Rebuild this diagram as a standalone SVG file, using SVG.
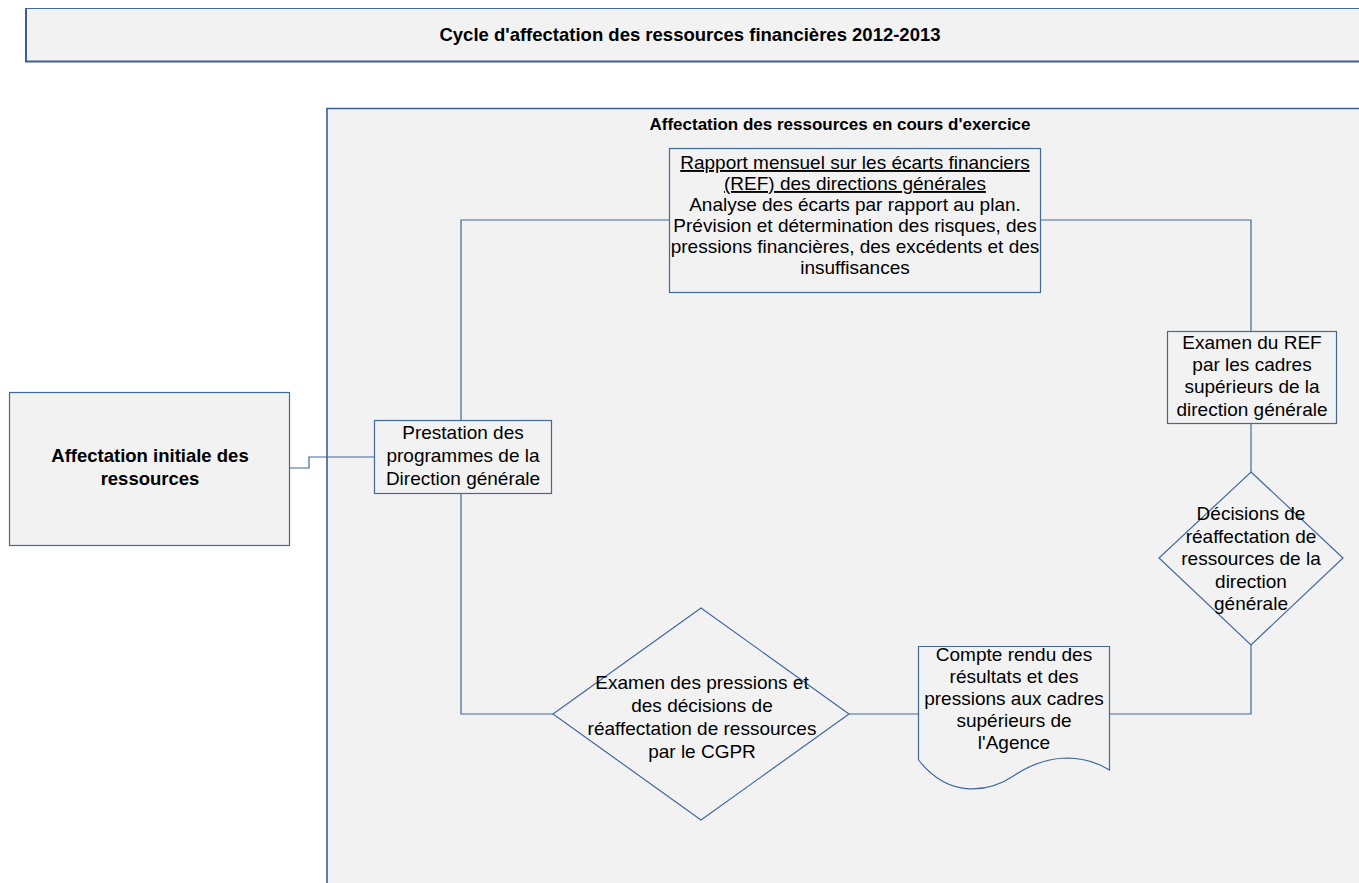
<svg xmlns="http://www.w3.org/2000/svg" width="1359" height="883" viewBox="0 0 1359 883">
<style>
.bg{fill:#f2f2f2}
.box{fill:#f2f2f2;stroke:#41699c;stroke-width:1.2}
.ln{fill:none;stroke:#41699c;stroke-width:1.2}
.t{font-family:"Liberation Sans",Arial,sans-serif;font-size:19px;fill:#000;text-anchor:middle}
.b{font-weight:bold;font-size:18.5px}
</style>
<rect width="1359" height="883" fill="#ffffff"/>
<g id="title">
<rect x="25" y="8" width="1340" height="54" class="bg"/>
<path d="M1359,8.5 H25.5" class="ln"/>
<path d="M26,8 V62 M25,61.5 H1359" fill="none" stroke="#3a5f94" stroke-width="2"/>
<text x="690" y="41" class="t b">Cycle d'affectation des ressources financières 2012-2013</text>
</g>
<g id="container">
<rect x="326" y="108" width="1040" height="790" class="bg"/>
<path d="M1359,108.5 H327 V883" fill="none" stroke="#3a5f94" stroke-width="1.6"/>
<text x="840" y="130" class="t b" style="font-size:17px">Affectation des ressources en cours d'exercice</text>
</g>
<g id="connectors">
<path d="M289,468 H309 V457 H374" class="ln"/>
<path d="M461,420 V220 H669" class="ln"/>
<path d="M1040,220 H1251 V331" class="ln"/>
<path d="M1251,423 V472" class="ln"/>
<path d="M461,493 V714 H553" class="ln"/>
<path d="M849,714 H918" class="ln"/>
<path d="M1251,645 V714 H1109" class="ln"/>
</g>
<g id="initial">
<rect x="9.5" y="392.5" width="280" height="153" class="box"/>
<text x="150" y="462" class="t b">Affectation initiale des</text>
<text x="150" y="485" class="t b">ressources</text>
</g>
<g id="prestation">
<rect x="374.5" y="420.5" width="177" height="73" class="box"/>
<text x="463" y="439" class="t">Prestation des</text>
<text x="463" y="462" class="t">programmes de la</text>
<text x="463" y="485" class="t">Direction générale</text>
</g>
<g id="rapport">
<rect x="669.5" y="148.5" width="371" height="144" class="box"/>
<text x="855" y="169" class="t" text-decoration="underline">Rapport mensuel sur les écarts financiers</text>
<text x="855" y="190" class="t" text-decoration="underline">(REF) des directions générales</text>
<text x="855" y="211" class="t">Analyse des écarts par rapport au plan.</text>
<text x="855" y="232" class="t">Prévision et détermination des risques, des</text>
<text x="855" y="253" class="t">pressions financières, des excédents et des</text>
<text x="855" y="274" class="t">insuffisances</text>
</g>
<g id="examen-ref">
<rect x="1167.5" y="331.5" width="169" height="92" class="box"/>
<text x="1252" y="349" class="t">Examen du REF</text>
<text x="1252" y="371" class="t">par les cadres</text>
<text x="1252" y="393" class="t">supérieurs de la</text>
<text x="1252" y="416" class="t">direction générale</text>
</g>
<g id="decisions-dg">
<path d="M1251,472 L1343,558 L1251,645 L1159,558 Z" class="box"/>
<text x="1251" y="520" class="t">Décisions de</text>
<text x="1251" y="543" class="t">réaffectation de</text>
<text x="1251" y="565" class="t">ressources de la</text>
<text x="1251" y="588" class="t">direction</text>
<text x="1251" y="610" class="t">générale</text>
</g>
<g id="compte-rendu">
<path d="M918.5,646.5 H1109.5 V770 C1080,752 1045,755 1015,775 C990,792 950,800 918.5,760 Z" class="box"/>
<text x="1014" y="661" class="t">Compte rendu des</text>
<text x="1014" y="683" class="t">résultats et des</text>
<text x="1014" y="705" class="t">pressions aux cadres</text>
<text x="1014" y="727" class="t">supérieurs de</text>
<text x="1014" y="749" class="t">l'Agence</text>
</g>
<g id="cgpr">
<path d="M701,608 L849,714 L701,820 L553,714 Z" class="box"/>
<text x="702" y="689" class="t">Examen des pressions et</text>
<text x="702" y="712" class="t">des décisions de</text>
<text x="702" y="735" class="t">réaffectation de ressources</text>
<text x="702" y="758" class="t">par le CGPR</text>
</g>
</svg>
